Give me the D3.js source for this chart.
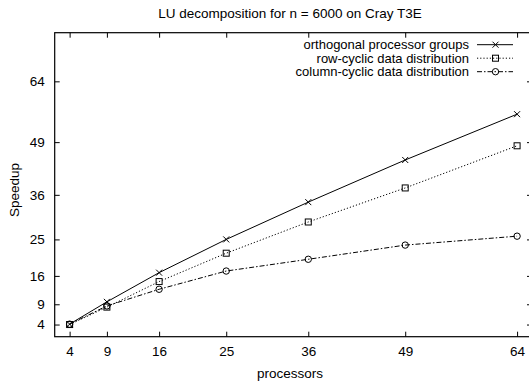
<!DOCTYPE html>
<html>
<head>
<meta charset="utf-8">
<script src="https://cdn.jsdelivr.net/npm/d3@7"></script>
<style>
  body { margin: 0; background: #fff; }
  svg { display: block; font-family: "Liberation Sans", Arial, sans-serif; }
  .axis path, .axis line { stroke: #000; }
  .axis text { font-size: 13.5px; fill: #000; }
</style>
</head>
<body>
<div id="chart"></div>
<script>
// data
const processors = [4, 9, 16, 25, 36, 49, 64];
const ticks = [4, 9, 16, 25, 36, 49, 64];
const orthogonal = [4.1, 9.6, 16.8, 25.0, 34.2, 44.6, 55.9];
const rowCyclic = [4.0, 8.3, 14.6, 21.6, 29.3, 37.7, 48.1];
const colCyclic = [4.1, 8.6, 12.7, 17.2, 20.1, 23.6, 25.8];
const seriesNames = ['orthogonal processor groups', 'row-cyclic data distribution', 'column-cyclic data distribution'];

const width = 529;
const height = 383;
const margin = { top: 32.7, right: -3, bottom: 46.3, left: 54.7 };

const svg = d3.select('#chart')
  .append('svg')
  .attr('width', width)
  .attr('height', height);

// Set the ranges
const x = d3.scaleLinear().domain([2, 66]).range([margin.left, width - margin.right]);
const y = d3.scaleLinear().domain([1, 76]).range([height - margin.bottom, margin.top]);

// frame
svg.append('rect')
  .attr('x', margin.left)
  .attr('y', margin.top)
  .attr('width', x.range()[1] - margin.left)
  .attr('height', y.range()[0] - margin.top)
  .attr('fill', 'none')
  .attr('stroke', '#000')
  .attr('stroke-width', 1.2);

// axes (gnuplot style, ticks inward, mirrored)
svg.append('g')
  .attr('class', 'axis')
  .attr('transform', `translate(0, ${y.range()[0]})`)
  .call(d3.axisBottom(x).tickValues(ticks).tickSize(-5).tickPadding(10))
  .call(g => g.select('.domain').remove());

svg.append('g')
  .attr('class', 'axis')
  .attr('transform', `translate(0, ${margin.top})`)
  .call(d3.axisTop(x).tickValues(ticks).tickSize(-5).tickFormat(''))
  .call(g => g.select('.domain').remove());

svg.append('g')
  .attr('class', 'axis')
  .attr('transform', `translate(${margin.left}, 0)`)
  .call(d3.axisLeft(y).tickValues(ticks).tickSize(-5).tickPadding(10))
  .call(g => g.select('.domain').remove());

svg.append('g')
  .attr('class', 'axis')
  .attr('transform', `translate(${x.range()[1]}, 0)`)
  .call(d3.axisRight(y).tickValues(ticks).tickSize(-5).tickFormat(''))
  .call(g => g.select('.domain').remove());

// titles
svg.append('text')
  .attr('x', 290)
  .attr('y', 18)
  .attr('text-anchor', 'middle')
  .attr('font-size', 13.5)
  .text('LU decomposition for n = 6000 on Cray T3E');

svg.append('text')
  .attr('x', 290)
  .attr('y', 378)
  .attr('text-anchor', 'middle')
  .attr('font-size', 13.5)
  .text('processors');

svg.append('text')
  .attr('transform', 'translate(19, 190) rotate(-90)')
  .attr('text-anchor', 'middle')
  .attr('font-size', 13.5)
  .text('Speedup');

// series
const series = [
  { name: seriesNames[0], values: orthogonal, dash: null, marker: 'cross' },
  { name: seriesNames[1], values: rowCyclic, dash: '1.2,2', marker: 'square' },
  { name: seriesNames[2], values: colCyclic, dash: '5,2,1.5,2', marker: 'circle' },
];

const line = d3.line()
  .x(d => x(d[0]))
  .y(d => y(d[1]));

const drawMarker = (g, type, cx, cy) => {
  if (type === 'cross') {
    g.append('path')
      .attr('d', `M${cx - 3},${cy - 3}L${cx + 3},${cy + 3}M${cx - 3},${cy + 3}L${cx + 3},${cy - 3}`)
      .attr('stroke', '#000').attr('stroke-width', 1);
  } else if (type === 'square') {
    g.append('rect')
      .attr('x', cx - 3).attr('y', cy - 3).attr('width', 6).attr('height', 6)
      .attr('fill', 'none').attr('stroke', '#000').attr('stroke-width', 1);
  } else {
    g.append('circle')
      .attr('cx', cx).attr('cy', cy).attr('r', 3.2)
      .attr('fill', 'none').attr('stroke', '#000').attr('stroke-width', 1);
  }
};

series.forEach((s) => {
  const pts = processors.map((p, i) => [p, s.values[i]]);
  svg.append('path')
    .attr('d', line(pts))
    .attr('fill', 'none')
    .attr('stroke', '#000')
    .attr('stroke-width', 1)
    .attr('stroke-dasharray', s.dash);
  const g = svg.append('g');
  pts.forEach(p => drawMarker(g, s.marker, x(p[0]), y(p[1])));
});

// legend
series.forEach((s, i) => {
  const ly = 44.7 + i * 13.5;
  svg.append('text')
    .attr('x', 469)
    .attr('y', ly + 4.5)
    .attr('text-anchor', 'end')
    .attr('font-size', 13)
    .text(s.name);
  svg.append('line')
    .attr('x1', 477).attr('x2', 513)
    .attr('y1', ly).attr('y2', ly)
    .attr('stroke', '#000')
    .attr('stroke-width', 1)
    .attr('stroke-dasharray', s.dash);
  drawMarker(svg, s.marker, 495.5, ly);
});
</script>
</body>
</html>
